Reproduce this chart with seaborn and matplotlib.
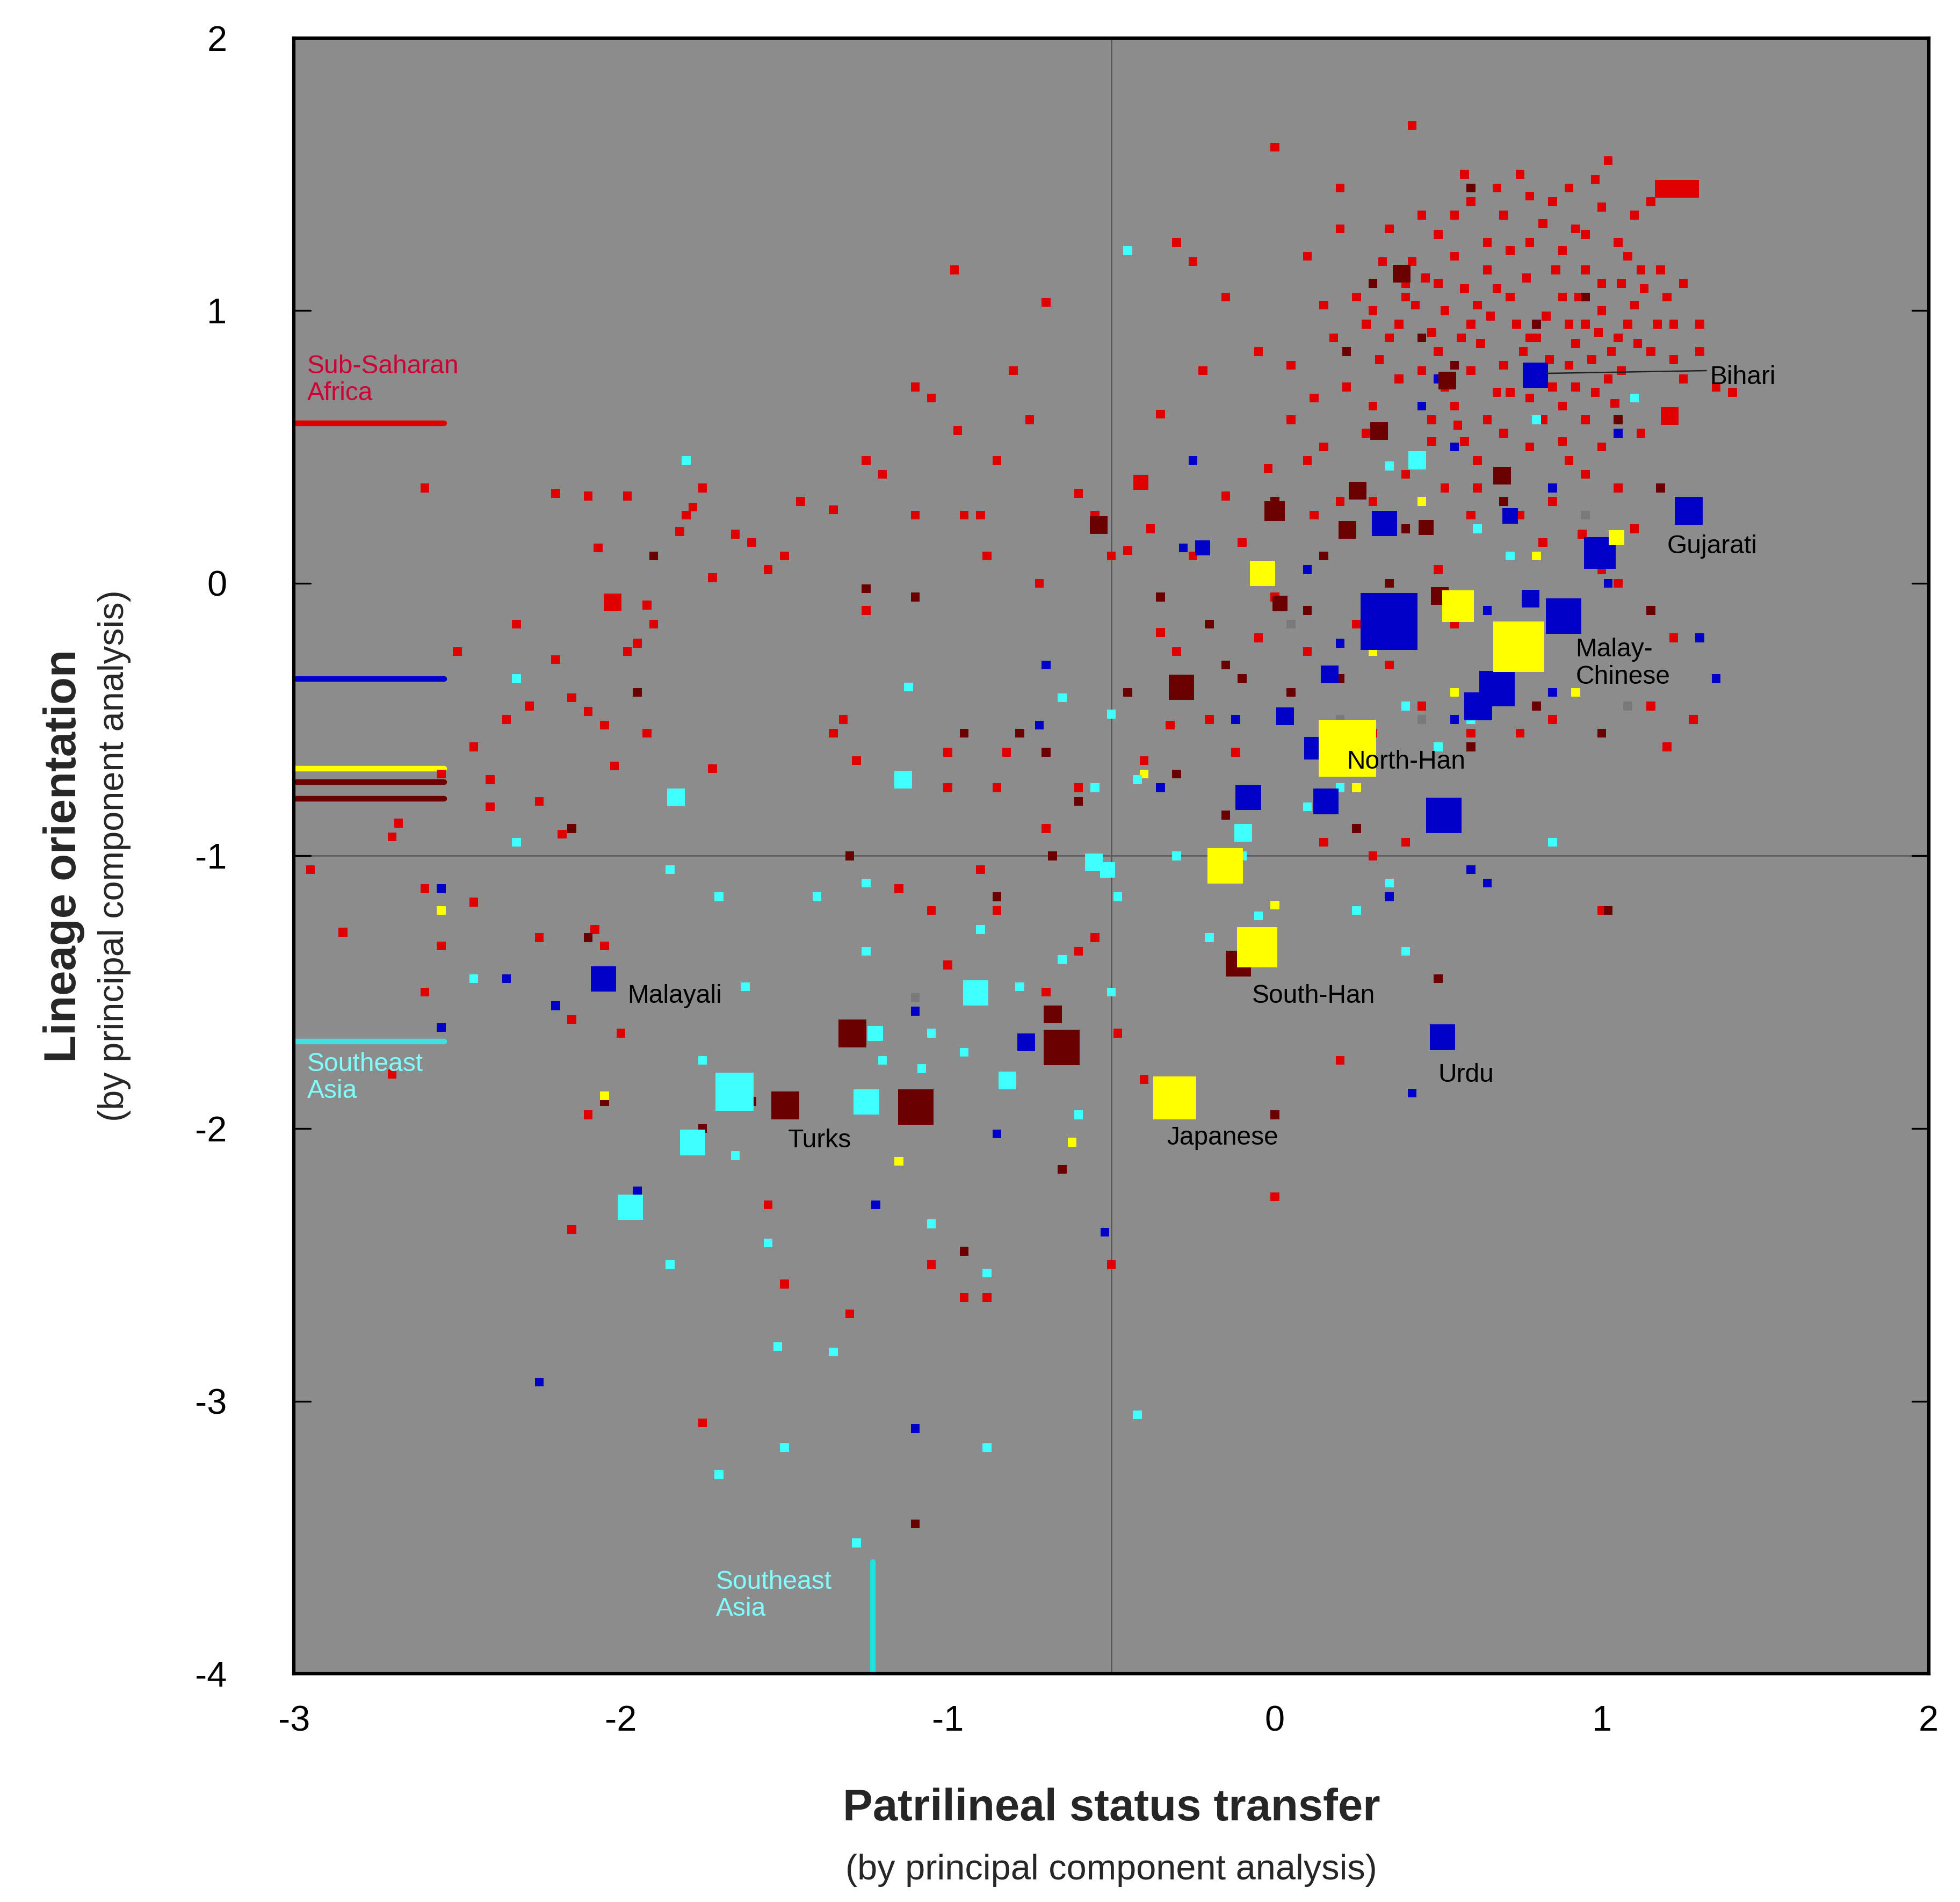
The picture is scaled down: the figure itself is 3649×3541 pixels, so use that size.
import numpy as np
import pandas as pd
import seaborn as sns
import matplotlib.pyplot as plt

# colours per group
colors = {'africa': '#e00000', 'dark': '#6b0000', 'blue': '#0000c8',
          'yellow': '#ffff00', 'cyan': '#40ffff', 'gray': '#7a7a7a'}

# large markers: x, y, side (marker side in display px of the reference)
big_blue = [(0.35, -0.14, 45), (0.797, 0.763, 20), (1.266, 0.265, 22), (0.883, -0.121, 28),
            (0.995, 0.112, 25), (0.68, -0.386, 28), (0.622, -0.451, 22), (0.335, 0.219, 20),
            (0.517, -0.851, 28), (0.156, -0.8, 20), (-0.081, -0.786, 20), (0.125, -0.605, 18),
            (0.032, -0.488, 14), (0.168, -0.335, 14), (0.782, -0.056, 14), (0.72, 0.247, 12),
            (-2.053, -1.451, 20), (0.513, -1.665, 20), (-0.76, -1.684, 14), (-0.221, 0.13, 12)]
big_yellow = [(0.222, -0.605, 45), (0.746, -0.233, 40), (-0.054, -1.335, 32), (-0.306, -1.888, 34),
              (-0.151, -1.037, 28), (-0.038, 0.037, 20), (0.56, -0.084, 25), (1.045, 0.167, 12)]
big_cyan = [(-1.653, -1.865, 30), (-1.249, -1.902, 20), (-0.915, -1.502, 20), (-1.781, -2.051, 20),
            (-1.971, -2.288, 20), (-1.137, -0.721, 14), (-1.832, -0.786, 14), (-0.554, -1.023, 14),
            (-0.511, -1.051, 12), (-0.096, -0.916, 14), (-0.818, -1.823, 14), (0.436, 0.451, 14),
            (-1.222, -1.651, 12)]
big_dark = [(-1.098, -1.921, 28), (-0.652, -1.702, 28), (-1.498, -1.916, 22), (-1.292, -1.651, 22),
            (-0.112, -1.395, 20), (-0.286, -0.381, 20), (0.0, 0.265, 16), (0.505, -0.047, 14),
            (0.528, 0.744, 14), (0.388, 1.135, 14), (0.319, 0.558, 14), (0.253, 0.34, 14),
            (0.222, 0.195, 14), (0.696, 0.395, 14), (-0.539, 0.214, 14), (0.463, 0.205, 12),
            (0.016, -0.074, 12), (-0.679, -1.581, 14)]
big_red = [(1.19, 1.447, 14), (1.23, 1.447, 14), (1.27, 1.447, 14), (1.208, 0.614, 14),
           (-2.026, -0.07, 14), (-0.41, 0.37, 12)]

small_red = [(-2.95,-1.05),(-2.6,0.35),(-2.5,-0.25),(-2.55,-0.7),(-2.45,-0.6),(-2.4,-0.82),(-2.35,-0.5),
    (-2.32,-0.15),(-2.28,-0.45),(-2.25,-0.8),(-2.2,0.33),(-2.2,-0.28),(-2.15,-0.42),(-2.1,0.32),(-2.1,-0.47),
    (-2.07,0.13),(-2.05,-0.52),(-1.98,0.32),(-1.92,-0.08),(-1.9,-0.15),(-1.95,-0.22),(-1.98,-0.25),(-1.92,-0.55),
    (-1.82,0.19),(-1.78,0.28),(-1.75,0.35),(-1.8,0.25),(-1.72,0.02),(-1.65,0.18),(-1.6,0.15),(-1.55,0.05),
    (-1.5,0.1),(-1.45,0.3),(-1.35,-0.55),(-1.32,-0.5),(-1.35,0.27),(-1.25,0.45),(-1.28,-0.65),(-1.25,-0.1),
    (-1.2,0.4),(-1.1,0.25),(-1.1,0.72),(-1.05,0.68),(-1.0,-0.62),(-0.97,0.56),(-0.95,0.25),(-0.9,0.25),
    (-0.88,0.1),(-0.85,0.45),(-0.82,-0.62),(-0.8,0.78),(-0.75,0.6),(-0.72,0.0),(-0.7,1.03),(-0.6,0.33),
    (-0.55,0.25),(-0.5,0.1),(-0.98,1.15),(-1.72,-0.68),(-2.02,-0.67),(-2.18,-0.92),(-2.4,-0.72),(-2.68,-0.88),
    (-2.7,-0.93),(-2.85,-1.28),(-2.7,-1.8),(-2.6,-1.5),(-2.55,-1.33),(-2.45,-1.17),(-2.6,-1.12),(-2.25,-1.3),
    (-2.08,-1.27),(-2.05,-1.33),(-2.15,-1.6),(-2.1,-1.95),(-2.15,-2.37),(-2.0,-1.65),(-1.75,-3.08),(-1.5,-2.57),
    (-1.55,-2.28),(-1.3,-2.68),(-1.05,-2.5),(-0.95,-2.62),(-0.88,-2.62),(-0.5,-2.5),(0.0,-2.25),(-0.48,-1.65),
    (-0.4,-1.82),(-0.55,-1.3),(-0.6,-1.35),(-0.7,-1.5),(-0.85,-1.2),(-0.9,-1.05),(-1.0,-1.4),(-1.05,-1.2),
    (-1.15,-1.12),(-1.0,-0.75),(-0.85,-0.75),(-0.7,-0.9),(-0.6,-0.75),(-0.4,-0.65),(-0.32,-0.52),(-0.2,-0.5),
    (-0.12,-0.62),(-0.3,-0.25),(-0.35,-0.18),(-0.45,0.12),(-0.38,0.2),(-0.25,0.1),(-0.15,0.32),(-0.1,0.15),
    (-0.05,-0.2),(-0.4,0.37),(-0.22,0.78),(-0.35,0.62),(-0.25,1.18),(-0.3,1.25),(-0.15,1.05),(-0.05,0.85),
    (0.0,1.6),(0.15,0.5),(0.05,0.8),(0.1,0.45),(0.18,0.9),(0.2,1.3),(0.25,1.05),(0.3,0.65),(0.35,1.3),
    (0.38,0.95),(0.42,1.68),(0.4,1.05),(0.45,1.35),(0.5,1.1),(0.5,0.85),(0.55,1.2),(0.55,0.65),(0.6,1.4),
    (0.6,0.95),(0.62,0.45),(0.65,1.15),(0.7,1.35),(0.7,0.8),(0.72,1.05),(0.75,1.5),(0.78,1.25),(0.8,0.9),
    (0.82,0.6),(0.85,1.4),(0.88,1.05),(0.9,0.8),(0.92,1.3),(0.95,0.95),(0.98,1.48),(1.0,1.1),(1.02,0.75),
    (1.05,0.9),(1.08,1.2),(1.1,1.02),(1.12,0.55),(1.15,0.85),(1.18,1.15),(1.22,0.95),(1.25,0.75),(1.3,0.95),
    (1.35,0.72),(1.4,0.7),(0.95,0.4),(1.05,0.35),(0.85,0.3),(0.7,0.38),(0.6,0.25),(0.5,0.05),(0.55,-0.15),
    (0.65,-0.35),(0.75,-0.55),(0.85,-0.5),(0.6,-0.55),(0.45,-0.45),(0.3,-0.55),(0.35,-0.3),(0.4,-0.95),
    (0.15,-0.95),(0.3,-1.0),(0.5,-1.45),(0.2,-1.75),(1.0,-1.2),(1.2,-0.6),(1.15,-0.45),(1.28,-0.5),(1.22,-0.2),
    (1.0,0.05),(1.05,0.0),(0.15,0.1),(0.25,-0.15),(0.0,-0.05),(0.1,-0.25),(0.2,0.3),(0.28,0.55),(0.48,0.52),
    (0.58,0.52),(0.68,0.7),(0.88,0.52),(0.95,0.6),(0.78,0.9),(0.62,1.02),(0.42,1.18),(0.32,0.82),(0.22,0.72),
    (0.12,0.68),(0.95,1.15),(1.1,1.35),(1.2,1.05),(0.48,0.92),(0.85,0.72)]
# dense core of the Sub-Saharan cluster
small_red_core = [(0.4,1.1),(0.43,1.02),(0.46,1.12),(0.52,1.0),(0.57,0.9),(0.58,1.08),(0.63,0.88),
    (0.66,0.98),(0.68,1.08),(0.74,0.95),(0.76,0.85),(0.77,1.12),(0.83,0.98),(0.84,0.82),(0.86,1.15),
    (0.9,0.95),(0.92,0.88),(0.93,1.05),(0.97,0.82),(0.99,0.92),(1.0,1.0),(1.03,0.85),(1.06,1.1),(1.08,0.95),
    (1.11,0.88),(1.13,1.08),(1.17,0.95),(0.72,0.7),(0.78,0.68),(0.8,0.75),(0.88,0.65),(0.92,0.72),(0.98,0.7),
    (1.04,0.66),(1.06,0.78),(0.65,0.6),(0.7,0.55),(0.78,0.5),(0.9,0.45),(1.0,0.5),(0.6,0.78),(0.52,0.72),
    (0.45,0.78),(0.38,0.75),(0.35,0.9),(0.3,1.0),(0.33,1.18),(0.5,1.28),(0.55,1.35),(0.65,1.25),(0.72,1.22),
    (0.82,1.32),(0.88,1.22),(0.95,1.28),(1.0,1.38),(1.05,1.25),(1.12,1.15),(0.68,1.45),(0.78,1.42),(0.9,1.45),
    (1.15,1.4),(0.2,1.45),(0.58,1.5),(1.02,1.55),(0.1,1.2),(0.15,1.02),(0.28,0.95),(0.62,0.35),(0.75,0.25),
    (0.52,0.35),(0.4,0.4),(0.82,0.15),(0.3,0.3),(0.12,0.25),(-0.02,0.42),(0.05,0.6),(1.22,0.82),(1.3,0.85),
    (1.25,1.1),(0.48,0.6),(0.56,0.58),(0.94,0.18),(1.1,0.2)]
small_dark = [(0.3,1.1),(0.22,0.85),(0.45,0.9),(0.55,0.5),(0.7,0.3),(0.4,0.2),(0.15,0.1),(0.0,0.3),
    (-0.1,-0.35),(-0.2,-0.15),(-0.35,-0.05),(-0.45,-0.4),(-0.3,-0.7),(-0.15,-0.85),(0.05,-0.4),(0.25,-0.9),
    (0.4,-0.2),(0.6,-0.6),(0.8,-0.45),(1.0,-0.55),(1.02,-1.2),(1.15,-0.1),(-0.7,-0.62),(-0.6,-0.8),
    (-0.68,-1.0),(-0.85,-1.15),(-0.95,-0.55),(-1.3,-1.0),(-1.25,-0.02),(-1.1,-0.05),(-1.9,0.1),(-1.95,-0.4),
    (-2.15,-0.9),(-2.1,-1.3),(-2.05,-1.9),(-1.75,-2.0),(-1.6,-1.9),(-0.65,-2.15),(-0.95,-2.45),(-1.1,-3.45),
    (-1.1,-1.52),(0.0,-1.95),(0.5,-1.45),(-0.78,-0.55),(0.55,0.8),(0.8,0.95),(1.05,0.6),(1.18,0.35),
    (0.6,1.45),(0.95,1.05),(0.35,0.0),(0.1,-0.1),(-0.15,-0.3),(0.2,-0.35)]
small_blue = [(-2.55,-1.12),(-2.35,-1.45),(-2.2,-1.55),(-2.55,-1.63),(-1.95,-2.23),(-2.25,-2.93),(-1.1,-3.1),
    (-0.52,-2.38),(-0.85,-2.02),(-1.22,-2.28),(-1.1,-1.57),(0.42,-1.87),(0.55,-0.5),(0.45,0.65),(0.55,0.5),
    (0.7,0.4),(0.85,0.35),(0.65,-0.1),(0.85,-0.4),(1.02,0.0),(1.3,-0.2),(1.35,-0.35),(0.6,-1.05),(0.35,-1.15),
    (0.5,0.75),(-0.25,0.45),(-0.7,-0.3),(-0.72,-0.52),(-0.35,-0.75),(-0.12,-0.5),(0.2,-0.22),(0.1,0.05),
    (0.3,-0.1),(1.05,0.55),(0.65,-1.1),(-0.28,0.13)]
small_yellow = [(-2.55,-1.2),(-2.05,-1.88),(-1.15,-2.12),(-0.62,-2.05),(0.0,-1.18),(0.25,-0.75),(0.55,-0.4),
    (0.92,-0.4),(0.45,0.3),(0.3,-0.25),(-0.4,-0.7),(0.8,0.1)]
small_cyan = [(-1.8,0.45),(-2.32,-0.35),(-2.32,-0.95),(-2.45,-1.45),(-1.85,-1.05),(-1.7,-1.15),(-1.75,-1.75),
    (-1.65,-2.1),(-1.85,-2.5),(-1.55,-2.42),(-1.52,-2.8),(-1.5,-3.17),(-1.7,-3.27),(-1.35,-2.82),(-1.28,-3.52),
    (-1.25,-1.35),(-1.25,-1.1),(-1.4,-1.15),(-1.2,-1.75),(-1.08,-1.78),(-1.12,-0.38),(-1.05,-2.35),(-0.88,-2.53),
    (-0.88,-3.17),(-0.78,-1.48),(-0.65,-1.38),(-0.6,-1.95),(-0.65,-0.42),(-0.5,-0.48),(-0.55,-0.75),(-0.5,-1.5),
    (-0.42,-0.72),(-0.45,1.22),(-0.42,-3.05),(-0.3,-1.0),(-0.2,-1.3),(-0.1,-1.0),(-0.05,-1.22),(0.1,-0.82),
    (0.2,-0.75),(0.35,-1.1),(0.25,-1.2),(0.4,-1.35),(0.4,-0.45),(0.5,-0.6),(0.6,-0.5),(0.62,0.2),(0.72,0.1),
    (0.8,0.6),(0.85,-0.95),(1.1,0.68),(-0.3,-1.88),(-0.9,-1.27),(-1.05,-1.65),(-0.95,-1.72),(-1.62,-1.48),
    (-0.48,-1.15),(0.35,0.43)]
small_gray = [(0.95,0.25),(0.05,-0.15),(0.2,-0.5),(1.08,-0.45),(-1.1,-1.52),(0.45,-0.5)]

# regional mean markers
region_lines_h = [('africa', 0.586), ('blue', -0.35), ('yellow', -0.68), ('dark', -0.73), ('dark', -0.79),
                  ('cyan', -1.68)]
region_line_v = ('cyan', -1.23)

labels = [('Bihari', 1.33, 0.8), ('Gujarati', 1.2, 0.18), ('Malay-\nChinese', 0.92, -0.2),
          ('North-Han', 0.22, -0.61), ('South-Han', -0.07, -1.47), ('Urdu', 0.5, -1.76),
          ('Japanese', -0.33, -1.99), ('Turks', -1.49, -2.0), ('Malayali', -1.98, -1.47)]

rows = []
for grp, pts in [('africa', small_red), ('africa', small_red_core), ('dark', small_dark),
                 ('blue', small_blue), ('yellow', small_yellow), ('cyan', small_cyan), ('gray', small_gray)]:
    rows += [(x, y, 7, grp) for x, y in pts]
for grp, pts in [('africa', big_red), ('dark', big_dark), ('cyan', big_cyan),
                 ('blue', big_blue), ('yellow', big_yellow)]:
    rows += [(x, y, s, grp) for x, y, s in pts]
df = pd.DataFrame(rows, columns=['x', 'y', 'side', 'group'])

sns.set_style('white')
plt.rcParams['font.family'] = ['Liberation Sans', 'DejaVu Sans']
plt.rcParams['axes.unicode_minus'] = False
fig = plt.figure(figsize=(3649 / 300, 3541 / 300), dpi=300)
ax = fig.add_axes([0.150, 0.12, 0.834, 0.86])
ax.set_facecolor('#8c8c8c')

px2pt = 0.567
sizes = {s: (s * px2pt) ** 2 for s in df['side'].unique()}
sns.scatterplot(data=df, x='x', y='y', hue='group', size='side', sizes=sizes,
                palette=colors, marker='s', linewidth=0, legend=False, ax=ax, zorder=3)

ax.axvline(-0.5, color='#555555', lw=0.6, zorder=1)
ax.axhline(-1.0, color='#555555', lw=0.6, zorder=1)
for grp, yv in region_lines_h:
    ax.plot([-3, -2.54], [yv, yv], color=colors[grp] if grp != 'cyan' else '#40e0e0', lw=2.5, zorder=2)
ax.plot([region_line_v[1]] * 2, [-3.59, -4], color='#20e0e0', lw=2.5, zorder=2)

for t, x, y in labels:
    ax.text(x, y, t, fontsize=11.5, va='top', ha='left', zorder=4, linespacing=1.15, color='black')
ax.plot([0.83, 1.32], [0.77, 0.78], color='#222222', lw=0.6, zorder=4)
ax.text(-2.96, 0.84, 'Sub-Saharan\nAfrica', color='#cc0033', fontsize=11.5, va='top', linespacing=1.15)
ax.text(-2.96, -1.72, 'Southeast\nAsia', color='#80ffff', fontsize=11.5, va='top', linespacing=1.15)
ax.text(-1.71, -3.62, 'Southeast\nAsia', color='#80ffff', fontsize=11.5, va='top', linespacing=1.15)

ax.set_xlim(-3, 2)
ax.set_ylim(-4, 2)
ax.set_xticks(range(-3, 3))
ax.set_yticks(range(-4, 3))
ax.tick_params(axis='both', labelsize=16, length=0, pad=14, labelcolor='black')
ax.tick_params(axis='y', pad=30)
for yv in range(-3, 2):
    ax.plot([-3, -2.95], [yv, yv], color='black', lw=0.8, zorder=2)
    ax.plot([1.95, 2], [yv, yv], color='black', lw=0.8, zorder=2)
for sp in ax.spines.values():
    sp.set_linewidth(1.5)
    sp.set_color('black')
ax.set_xlabel('')
ax.set_ylabel('')

fig.text(0.567, 0.043, 'Patrilineal status transfer', ha='center', fontsize=20, fontweight='bold')
fig.text(0.567, 0.012, '(by principal component analysis)', ha='center', fontsize=16)
fig.text(0.022, 0.55, 'Lineage orientation', va='center', rotation=90, fontsize=20, fontweight='bold')
fig.text(0.05, 0.55, '(by principal component analysis)', va='center', rotation=90, fontsize=16)

fig.savefig('out.png', dpi=300)
